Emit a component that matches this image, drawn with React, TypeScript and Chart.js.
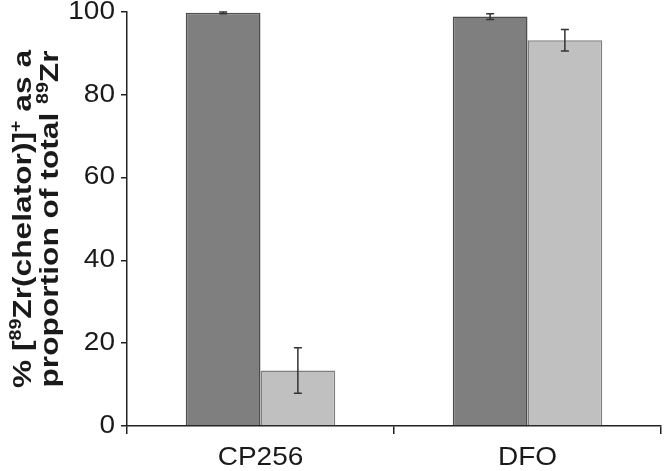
import React, { useEffect, useRef } from "react";
import { Chart, registerables } from "chart.js";

Chart.register(...registerables);

const categories = ["CP256", "DFO"];
const darkValues = [99.8, 98.9];
const darkErrors = [0.2, 0.7];
const lightValues = [13.4, 93.2];
const lightErrors = [5.5, 2.6];
const yTitleLine1: [string, boolean][] = [["% [", false], ["89", true], ["Zr(chelator)]", false], ["+", true], [" as a", false]];
const yTitleLine2: [string, boolean][] = [["proportion of total ", false], ["89", true], ["Zr", false]];

const FONT = "'Liberation Sans', Arial, Helvetica, sans-serif";
const TEXT_COLOR = "#1a1a1a";

const errorBarPlugin = {
  id: "errorBars",
  afterDatasetsDraw(chart: any) {
    const ctx = chart.ctx;
    const y = chart.scales.y;
    const errs = [darkErrors, lightErrors];
    chart.data.datasets.forEach((ds: any, di: number) => {
      const meta = chart.getDatasetMeta(di);
      meta.data.forEach((bar: any, i: number) => {
        const v = ds.data[i];
        const e = errs[di][i];
        const yTop = y.getPixelForValue(v + e);
        const yBot = y.getPixelForValue(v - e);
        const x = bar.x;
        ctx.save();
        ctx.strokeStyle = "#333333";
        ctx.lineWidth = 1.5;
        ctx.beginPath();
        ctx.moveTo(x, yTop);
        ctx.lineTo(x, yBot);
        ctx.moveTo(x - 4, yTop);
        ctx.lineTo(x + 4, yTop);
        ctx.moveTo(x - 4, yBot);
        ctx.lineTo(x + 4, yBot);
        ctx.stroke();
        ctx.restore();
      });
    });
  },
};

// Tick labels drawn from the scales' own ticks, slightly widened like the reference type
const tickLabelPlugin = {
  id: "tickLabels",
  afterDraw(chart: any) {
    const ctx = chart.ctx;
    const xs = chart.scales.x;
    const ys = chart.scales.y;
    const sx = 1.12;
    ctx.save();
    ctx.fillStyle = TEXT_COLOR;
    ctx.font = `25px ${FONT}`;
    ctx.textBaseline = "middle";
    ys.ticks.forEach((t: any, i: number) => {
      const py = ys.getPixelForTick(i);
      const label = String(t.label);
      ctx.save();
      ctx.translate(ys.right - 12, py);
      ctx.scale(sx, 1);
      ctx.textAlign = "right";
      ctx.fillText(label, 0, 0);
      ctx.restore();
    });
    xs.ticks.forEach((t: any, i: number) => {
      const px = xs.getPixelForTick(i);
      const label = String(t.label);
      ctx.save();
      ctx.translate(px, xs.top + 32);
      ctx.scale(sx, 1);
      ctx.textAlign = "center";
      ctx.fillText(label, 0, 0);
      ctx.restore();
    });
    ctx.restore();
  },
};

const yTitlePlugin = {
  id: "yTitle",
  afterDraw(chart: any) {
    const ctx = chart.ctx;
    const area = chart.chartArea;
    const cy = (area.top + area.bottom) / 2;
    const mainFont = `bold 26px ${FONT}`;
    const supFont = `bold 16px ${FONT}`;
    const along = 1.22;
    const drawLine = (parts: [string, boolean][], baseX: number) => {
      ctx.save();
      ctx.translate(baseX, cy);
      ctx.rotate(-Math.PI / 2);
      ctx.scale(along, 1);
      ctx.fillStyle = TEXT_COLOR;
      ctx.textBaseline = "alphabetic";
      ctx.textAlign = "left";
      let total = 0;
      parts.forEach(([t, sup]) => {
        ctx.font = sup ? supFont : mainFont;
        total += ctx.measureText(t).width;
      });
      let u = -total / 2;
      parts.forEach(([t, sup]) => {
        ctx.font = sup ? supFont : mainFont;
        ctx.fillText(t, u, sup ? -10 : 0);
        u += ctx.measureText(t).width;
      });
      ctx.restore();
    };
    drawLine(yTitleLine1, 31);
    drawLine(yTitleLine2, 58);
  },
};

export default function App() {
  const ref = useRef<HTMLCanvasElement | null>(null);
  useEffect(() => {
    if (!ref.current) return;
    const chart = new Chart(ref.current, {
      type: "bar",
      data: {
        labels: categories,
        datasets: [
          {
            data: darkValues,
            backgroundColor: "#7f7f7f",
            borderColor: "#4d4d4d",
            borderWidth: 1.5,
            categoryPercentage: 0.56,
            barPercentage: 1,
          },
          {
            data: lightValues,
            backgroundColor: "#c0c0c0",
            borderColor: "#7f7f7f",
            borderWidth: 1.5,
            categoryPercentage: 0.56,
            barPercentage: 1,
          },
        ],
      },
      options: {
        animation: false,
        responsive: true,
        maintainAspectRatio: false,
        layout: { padding: { left: 0, right: 4, top: 12, bottom: 0 } },
        plugins: { legend: { display: false }, tooltip: { enabled: false } },
        scales: {
          x: {
            offset: true,
            grid: { display: true, drawOnChartArea: false, offset: true, tickLength: 8, color: "#222222", lineWidth: 1.5 },
            border: { display: true, color: "#222222", width: 1.5 },
            ticks: { display: false },
            afterFit: (s: any) => { s.height = 45; },
          },
          y: {
            min: 0,
            max: 100,
            ticks: { stepSize: 20, display: false },
            grid: { display: true, drawOnChartArea: false, tickLength: 6, color: "#222222", lineWidth: 1.5 },
            border: { display: true, color: "#222222", width: 1.5 },
            afterFit: (s: any) => { s.width = 127; },
          },
        },
      },
      plugins: [errorBarPlugin, tickLabelPlugin, yTitlePlugin],
    });
    return () => chart.destroy();
  }, []);
  return (
    <div style={{ position: "absolute", left: 0, top: 0, width: 665, height: 471, background: "#ffffff" }}>
      <canvas ref={ref} />
    </div>
  );
}
